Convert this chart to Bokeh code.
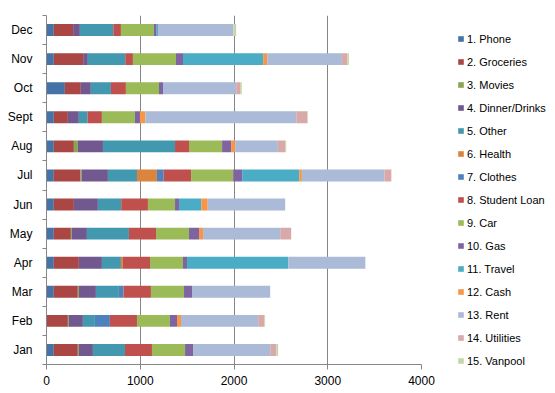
import numpy as np
from bokeh.plotting import figure
from bokeh.models import ColumnDataSource, Range1d, FixedTicker, Legend, LegendItem
from bokeh.embed import file_html
from bokeh.resources import INLINE

months = ["Jan", "Feb", "Mar", "Apr", "May", "Jun", "Jul", "Aug", "Sept", "Oct", "Nov", "Dec"]
categories = ["1. Phone", "2. Groceries", "3. Movies", "4. Dinner/Drinks", "5. Other", "6. Health",
              "7. Clothes", "8. Student Loan", "9. Car", "10. Gas", "11. Travel", "12. Cash",
              "13. Rent", "14. Utilities", "15. Vanpool"]

phone      = [78, 0, 78, 78, 78, 78, 78, 78, 78, 196, 78, 78]
groceries  = [256, 228, 256, 267, 182, 214, 285, 214, 150, 170, 313, 206]
movies     = [11, 10, 11, 0, 10, 0, 11, 42, 0, 0, 0, 0]
dinner     = [150, 150, 182, 246, 161, 256, 281, 268, 117, 107, 50, 72]
other      = [342, 128, 245, 203, 448, 249, 310, 769, 93, 214, 399, 356]
health     = [0, 0, 0, 21, 0, 0, 213, 0, 0, 0, 0, 0]
clothes    = [0, 160, 50, 0, 0, 0, 72, 0, 0, 0, 0, 0]
student    = [288, 289, 292, 289, 289, 285, 292, 149, 153, 160, 82, 82]
car        = [353, 352, 353, 352, 352, 289, 449, 353, 352, 353, 459, 352]
gas        = [85, 75, 85, 43, 107, 42, 96, 96, 54, 43, 75, 29]
travel     = [0, 0, 0, 1079, 0, 239, 609, 0, 0, 0, 855, 14]
cash       = [0, 43, 0, 0, 43, 68, 28, 43, 57, 0, 43, 0]
rent       = [823, 823, 834, 823, 823, 826, 880, 456, 1610, 780, 797, 805]
utilities  = [64, 64, 0, 0, 117, 0, 74, 78, 117, 42, 57, 0]
vanpool    = [21, 10, 0, 0, 0, 0, 0, 11, 7, 18, 18, 29]

series = [phone, groceries, movies, dinner, other, health, clothes, student, car, gas,
          travel, cash, rent, utilities, vanpool]

colors = ["#4572A7", "#AA4643", "#89A54E", "#71588F", "#4198AF", "#DB843D", "#4F81BD",
          "#C0504D", "#9BBB59", "#8064A2", "#4BACC6", "#F79646", "#AABAD7", "#D8A9A8", "#C6D6AC"]

x_ticks = [0, 1000, 2000, 3000, 4000]

keys = ["s%d" % i for i in range(len(categories))]
data = {"y": list(np.arange(len(months)) + 0.5)}
for k, s in zip(keys, series):
    data[k] = s
source = ColumnDataSource(data)

FONT = "Liberation Sans"
GRAY = "#868686"

p = figure(width=None, height=None, frame_width=375, frame_height=349,
           output_backend="svg", toolbar_location=None,
           x_range=Range1d(0, 4000), y_range=Range1d(0, len(months)),
           min_border_left=46, min_border_top=15, min_border_bottom=24, min_border_right=118)

renderers = p.hbar_stack(keys, y="y", height=0.41, color=colors, line_color=None, source=source)

p.outline_line_color = None
p.background_fill_color = "white"
p.border_fill_color = "white"

# x axis
xa = p.xaxis[0]
xa.ticker = FixedTicker(ticks=x_ticks)
xa.axis_line_color = GRAY
xa.major_tick_line_color = GRAY
xa.major_tick_out = 5
xa.major_tick_in = 0
xa.minor_tick_line_color = None
xa.major_label_standoff = 6
xa.major_label_text_font = FONT
xa.major_label_text_font_size = "12px"
xa.major_label_text_color = "black"

# y axis
ya = p.yaxis[0]
centers = [i + 0.5 for i in range(len(months))]
ya.ticker = FixedTicker(ticks=centers, minor_ticks=list(range(len(months) + 1)))
ya.major_label_overrides = {c: m for c, m in zip(centers, months)}
ya.axis_line_color = GRAY
ya.major_tick_line_color = None
ya.major_tick_out = 0
ya.major_tick_in = 0
ya.minor_tick_line_color = GRAY
ya.minor_tick_out = 4
ya.minor_tick_in = 0
ya.major_label_standoff = 10
ya.major_label_text_font = FONT
ya.major_label_text_font_size = "12px"
ya.major_label_text_color = "black"

p.xgrid.ticker = FixedTicker(ticks=x_ticks)
p.xgrid.grid_line_color = GRAY
p.ygrid.grid_line_color = None

legend = Legend(items=[LegendItem(label=c, renderers=[r]) for c, r in zip(categories, renderers)])
legend.location = (36, -3)
legend.margin = 0
legend.padding = 0
legend.spacing = 10
legend.glyph_width = 7
legend.glyph_height = 7
legend.label_height = 13
legend.label_standoff = 3
legend.label_text_font = FONT
legend.label_text_font_size = "11px"
legend.label_text_color = "black"
legend.border_line_color = None
legend.background_fill_alpha = 0
p.add_layout(legend, "right")

open("out.html", "w").write(file_html(p, INLINE))
